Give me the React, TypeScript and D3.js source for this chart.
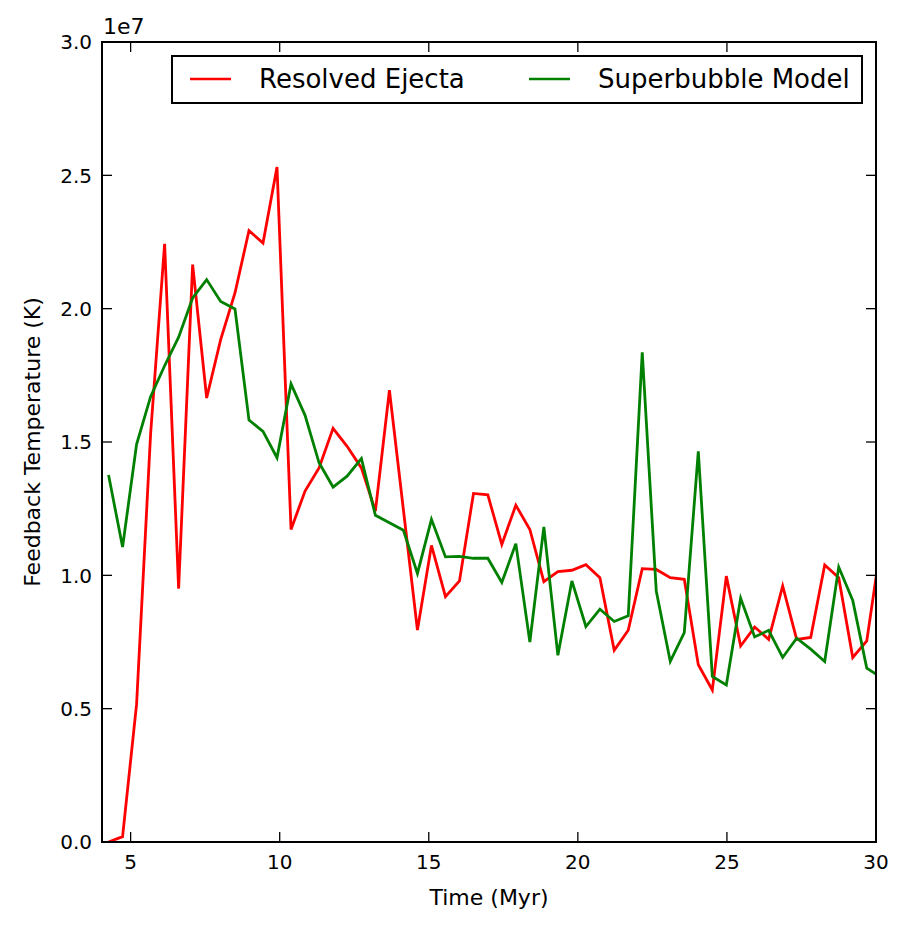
import React from "react";
import * as d3 from "d3";

const times = [
  4.26, 4.73, 5.2, 5.67, 6.14, 6.61, 7.08, 7.55, 8.02, 8.5, 8.97, 9.44, 9.91, 10.38,
  10.85, 11.32, 11.79, 12.26, 12.74, 13.21, 13.68, 14.15, 14.62, 15.09, 15.56, 16.03,
  16.5, 16.98, 17.45, 17.92, 18.39, 18.86, 19.33, 19.8, 20.27, 20.74, 21.22, 21.69,
  22.16, 22.63, 23.1, 23.57, 24.04, 24.51, 24.98, 25.46, 25.93, 26.4, 26.87, 27.34,
  27.81, 28.28, 28.75, 29.22, 29.69, 30.17,
];

// values in units of 1e7 K
const resolvedEjecta = [
  0.0, 0.02, 0.517, 1.53, 2.243, 0.95, 2.165, 1.665, 1.884, 2.059, 2.293, 2.246, 2.531,
  1.172, 1.316, 1.403, 1.551, 1.484, 1.403, 1.241, 1.694, 1.245, 0.795, 1.112, 0.92,
  0.979, 1.307, 1.302, 1.116, 1.263, 1.172, 0.976, 1.014, 1.019, 1.04, 0.991, 0.719,
  0.794, 1.025, 1.022, 0.991, 0.985, 0.665, 0.57, 0.997, 0.735, 0.806, 0.76, 0.96,
  0.76, 0.767, 1.039, 0.991, 0.692, 0.754, 1.12,
];

const superbubbleModel = [
  1.376, 1.106, 1.491, 1.67, 1.786, 1.893, 2.04, 2.109, 2.027, 1.999, 1.582, 1.54,
  1.441, 1.718, 1.6, 1.422, 1.331, 1.372, 1.438, 1.225, 1.197, 1.169, 1.007, 1.21,
  1.069, 1.071, 1.064, 1.064, 0.973, 1.119, 0.75, 1.182, 0.7, 0.979, 0.808, 0.873,
  0.827, 0.848, 1.836, 0.941, 0.677, 0.785, 1.465, 0.621, 0.589, 0.914, 0.769, 0.794,
  0.692, 0.764, 0.723, 0.677, 1.031, 0.906, 0.652, 0.617,
];

const xTicks = [5, 10, 15, 20, 25, 30];
const yTicks = [0, 0.5, 1.0, 1.5, 2.0, 2.5, 3.0];
const seriesNames = ["Resolved Ejecta", "Superbubble Model"];
const seriesColors = ["#ff0000", "#008000"];

export default function App() {
  const W = 908;
  const H = 931;
  const left = 102;
  const right = 876;
  const top = 42;
  const bottom = 842;
  const font = "DejaVu Sans, sans-serif";

  const x = d3.scaleLinear().domain([4.04, 30]).range([left, right]);
  const y = d3.scaleLinear().domain([0, 3.0]).range([bottom, top]);

  const line = d3
    .line<number>()
    .x((_, i) => x(times[i]))
    .y((d) => y(d));

  const series = [resolvedEjecta, superbubbleModel];
  const tickLen = 10;

  return (
    <svg
      width={W}
      height={H}
      style={{ position: "absolute", left: 0, top: 0, background: "#fff" }}
      fontFamily={font}
    >
      <rect x={0} y={0} width={W} height={H} fill="#fff" />
      <defs>
        <clipPath id="plotclip">
          <rect x={left} y={top} width={right - left} height={bottom - top} />
        </clipPath>
      </defs>
      <g clipPath="url(#plotclip)">
        {series.map((s, k) => (
          <path
            key={k}
            d={line(s) || ""}
            fill="none"
            stroke={seriesColors[k]}
            strokeWidth={2.8}
            strokeLinejoin="miter"
          />
        ))}
      </g>
      {xTicks.map((t) => (
        <g key={"xt" + t}>
          <line x1={x(t)} x2={x(t)} y1={bottom} y2={bottom - tickLen} stroke="#000" strokeWidth={1.3} />
          <line x1={x(t)} x2={x(t)} y1={top} y2={top + tickLen} stroke="#000" strokeWidth={1.3} />
          <text x={x(t)} y={869} fontSize={20} textAnchor="middle" fill="#000">
            {t}
          </text>
        </g>
      ))}
      {yTicks.map((t) => (
        <g key={"yt" + t}>
          <line x1={left} x2={left + tickLen} y1={y(t)} y2={y(t)} stroke="#000" strokeWidth={1.3} />
          <line x1={right} x2={right - tickLen} y1={y(t)} y2={y(t)} stroke="#000" strokeWidth={1.3} />
          <text x={92} y={y(t)} dy="0.36em" fontSize={20} textAnchor="end" fill="#000">
            {t.toFixed(1)}
          </text>
        </g>
      ))}
      <rect
        x={left}
        y={top}
        width={right - left}
        height={bottom - top}
        fill="none"
        stroke="#000"
        strokeWidth={2}
      />
      <text x={103} y={34} fontSize={22} fill="#000">
        1e7
      </text>
      <text x={(left + right) / 2} y={905} fontSize={22} textAnchor="middle" fill="#000">
        Time (Myr)
      </text>
      <text
        transform={`translate(40, ${(top + bottom) / 2}) rotate(-90)`}
        fontSize={22}
        textAnchor="middle"
        fill="#000"
      >
        Feedback Temperature (K)
      </text>
      <rect x={172} y={56} width={690} height={47} fill="#fff" stroke="#000" strokeWidth={2} />
      {seriesNames.map((name, k) => {
        const lx = k === 0 ? 190 : 529;
        return (
          <g key={name}>
            <line x1={lx} x2={lx + 41} y1={79} y2={79} stroke={seriesColors[k]} strokeWidth={2.6} />
            <text x={lx + 69} y={88} fontSize={26} fill="#000">
              {name}
            </text>
          </g>
        );
      })}
    </svg>
  );
}
